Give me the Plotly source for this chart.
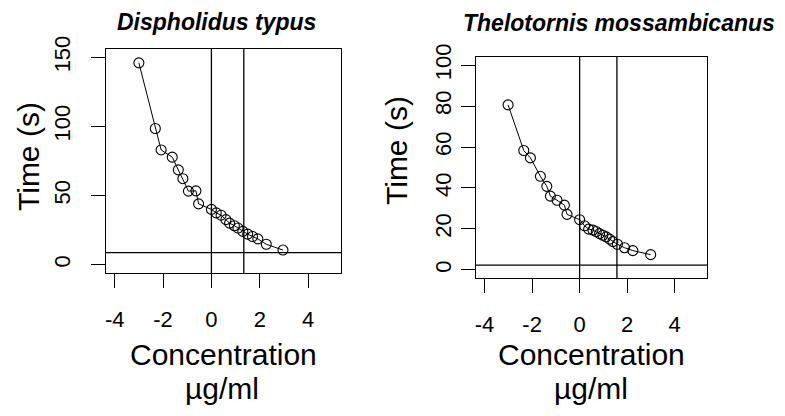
import plotly.graph_objects as go

# ---- data ----
titles = ["Dispholidus typus", "Thelotornis mossambicanus"]

conc_left = [-3.0, -2.32, -2.08, -1.62, -1.37, -1.18, -0.95, -0.64, -0.53,
             0.0, 0.2, 0.4, 0.6, 0.75, 0.95, 1.1, 1.3, 1.5, 1.7, 1.92, 2.27, 2.96]
time_left = [146, 98.5, 83, 77.8, 68.6, 62.2, 53.2, 53.4, 44,
             40, 37.5, 35.8, 32.6, 30.1, 28.2, 26.5, 24.1, 22.1, 20.4, 18.7, 14.8, 10.6]

conc_right = [-3.01, -2.35, -2.07, -1.65, -1.38, -1.23, -0.95, -0.64, -0.53,
              0.0, 0.21, 0.38, 0.56, 0.70, 0.84, 0.98, 1.12, 1.26, 1.40, 1.59, 1.89, 2.24, 2.99]
time_right = [80.6, 58.3, 54.7, 45.7, 40.8, 36.0, 34.0, 31.6, 27.1,
              24.5, 21.5, 19.9, 19.4, 18.7, 17.7, 16.9, 16.1, 15.0, 13.8, 12.5, 10.8, 9.4, 7.4]

vlines_left = [0.0, 1.34]
hline_left = [8.8]
vlines_right = [0.0, 1.57]
hline_right = [2.3]

x_ticks = [-4, -2, 0, 2, 4]
x_ticktext = ["-4", "-2", "0", "2", "4"]
y_ticks_left = [0, 50, 100, 150]
y_ticks_right = [0, 20, 40, 60, 80, 100]

x_title = "Concentration"
x_unit = "µg/ml"
y_title = "Time (s)"

FONT = "Liberation Sans, Arial, Helvetica, sans-serif"

fig = go.Figure()

for xs, ys, xa, ya in [(conc_left, time_left, "x", "y"), (conc_right, time_right, "x2", "y2")]:
    fig.add_trace(go.Scatter(
        x=xs, y=ys, xaxis=xa, yaxis=ya, mode="lines+markers",
        line=dict(color="black", width=1),
        marker=dict(symbol="circle-open", size=10, color="black", line=dict(width=1.1, color="black")),
        showlegend=False, hoverinfo="skip"))

shapes = []
for vl, hl, xr, yr in [(vlines_left, hline_left, "x", "y"), (vlines_right, hline_right, "x2", "y2")]:
    for v in vl:
        shapes.append(dict(type="line", xref=xr, yref=yr + " domain", x0=v, x1=v, y0=0, y1=1,
                           line=dict(color="black", width=1.3)))
    for h in hl:
        shapes.append(dict(type="line", xref=xr + " domain", yref=yr, x0=0, x1=1, y0=h, y1=h,
                           line=dict(color="black", width=1.3)))

axis_common = dict(showline=True, mirror=True, linecolor="black", linewidth=1.3,
                   ticks="outside", ticklen=14, tickwidth=1, tickcolor="black",
                   showgrid=False, zeroline=False, automargin=False,
                   tickfont=dict(family=FONT, size=22, color="black"))

W, H = 785, 416
def px_x(p):
    return p / W
def px_y(p):
    return 1 - p / H

fig.update_layout(
    template="none",
    width=W, height=H, margin=dict(l=0, r=0, t=0, b=0, pad=0),
    paper_bgcolor="white", plot_bgcolor="white",
    xaxis=dict(domain=[px_x(106), px_x(341)], range=[-4.36, 5.36], tickvals=x_ticks,
               ticktext=x_ticktext, anchor="y", ticklabelstandoff=12, **axis_common),
    yaxis=dict(domain=[px_y(273), px_y(49)], range=[-6, 156], tickvals=y_ticks_left,
               tickangle=-90, anchor="x", ticklabelstandoff=12, **axis_common),
    xaxis2=dict(domain=[px_x(476), px_x(707)], range=[-4.36, 5.36], tickvals=x_ticks,
                ticktext=x_ticktext, anchor="y2", ticklabelstandoff=12, **axis_common),
    yaxis2=dict(domain=[px_y(278), px_y(57)], range=[-4, 104], tickvals=y_ticks_right,
                tickangle=-90, anchor="x2", ticklabelstandoff=1, **axis_common),
    shapes=shapes,
)

ann = []
def add_text(text, x, y, size, angle=0, bold_italic=False):
    t = f"<b><i>{text}</i></b>" if bold_italic else text
    ann.append(dict(text=t, x=px_x(x), y=px_y(y), xref="paper", yref="paper",
                    xanchor="center", yanchor="middle", showarrow=False, textangle=angle,
                    font=dict(family=FONT, size=size, color="black")))

add_text(titles[0], 216, 22, 23, bold_italic=True)
add_text(titles[1], 619, 23, 23, bold_italic=True)
add_text(x_title, 223, 354, 30)
add_text(x_unit, 222, 388, 30)
add_text(x_title, 591, 354, 30)
add_text(x_unit, 591, 388, 30)
add_text(y_title, 28, 157, 30, angle=-90)
add_text(y_title, 397, 151, 30, angle=-90)
fig.update_layout(annotations=ann)

fig.write_html("out.html", config={"displayModeBar": False},
               post_script="document.body.style.margin='0';document.body.style.overflow='hidden';")
